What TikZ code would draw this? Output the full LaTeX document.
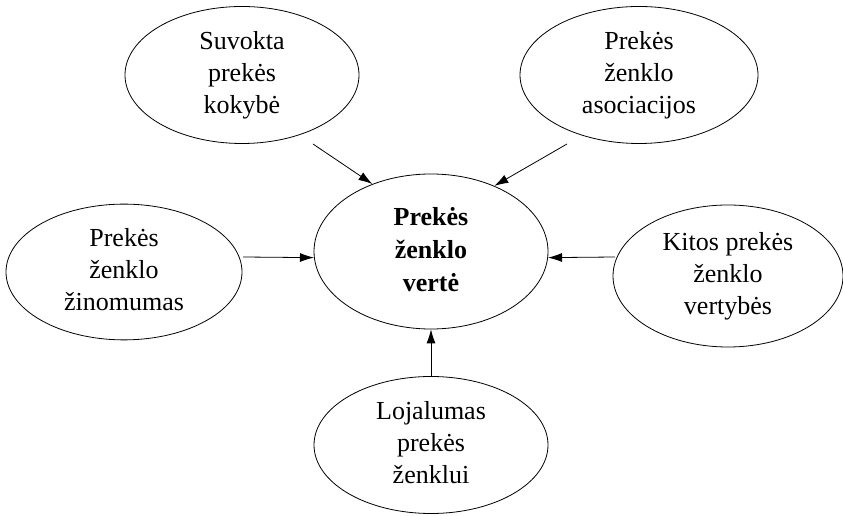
\documentclass[tikz,border=0pt]{standalone}
\usepackage{fontspec}
\setmainfont{Liberation Serif}
\usetikzlibrary{shapes.geometric,arrows.meta}
\newcommand\ovtext[2]{\raisebox{#1}{\begin{tabular}{@{}c@{}}#2\end{tabular}}}
\tikzset{
  oval/.style={draw, ellipse, line width=0.8pt, inner sep=0pt, align=center,
    font=\fontsize{26}{32}\selectfont},
  arr/.style={line width=0.8pt, -{Latex[length=14pt,width=9pt]}}
}
\begin{document}
\begin{tikzpicture}[x=1pt,y=1pt]
\useasboundingbox (0,0) rectangle (843,516);
\node[oval, minimum width=234pt, minimum height=137pt] (tl) at (242,441) {\ovtext{6pt}{Suvokta\\prekės\\kokybė}};
\node[oval, minimum width=238pt, minimum height=137pt] (tr) at (639,441) {\ovtext{5pt}{Prekės\\ženklo\\asociacijos}};
\node[oval, minimum width=236pt, minimum height=132pt] (l) at (124,244) {\ovtext{1pt}{Prekės\\ženklo\\žinomumas}};
\node[oval, minimum width=234pt, minimum height=155pt, font=\fontsize{26}{33}\selectfont\bfseries] (c) at (431,264.5) {\ovtext{-7pt}{Prekės\\ženklo\\vertė}};
\node[oval, minimum width=230pt, minimum height=142pt] (r) at (728,240) {\ovtext{7pt}{Kitos prekės\\ženklo\\vertybės}};
\node[oval, minimum width=234pt, minimum height=137pt] (b) at (431,71) {\ovtext{0pt}{Lojalumas\\prekės\\ženklui}};
\coordinate (s1) at (313,372);
\coordinate (s2) at (567,372);
\coordinate (s3) at (243,259);
\coordinate (s4) at (615,259);
\draw[arr] (s1) -- (c.131.8);
\draw[arr] (s2) -- (c.46.4);
\draw[arr] (s3) -- (c.183);
\draw[arr] (s4) -- (c.357);
\draw[arr] (b.north) -- (c.south);
\end{tikzpicture}
\end{document}
